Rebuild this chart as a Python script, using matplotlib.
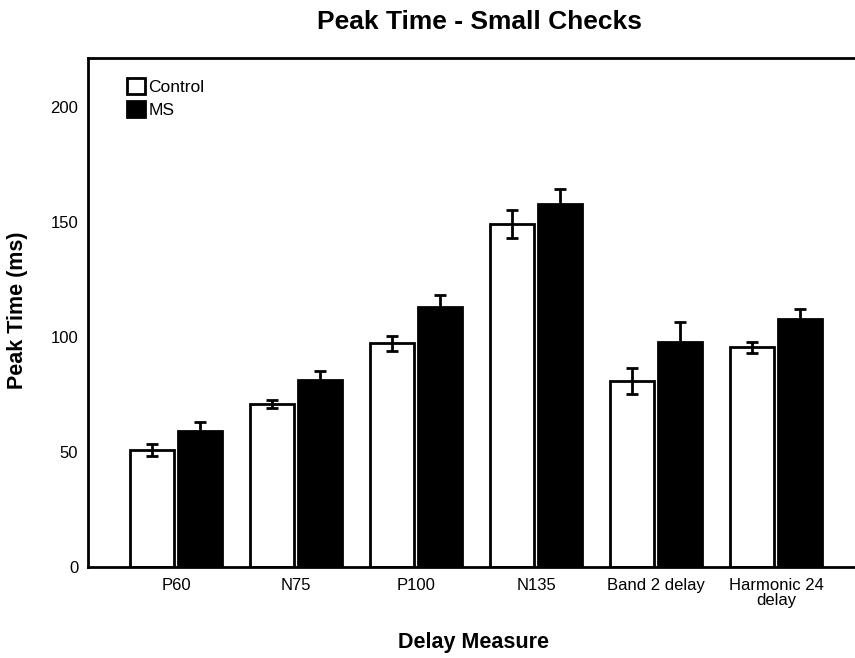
import matplotlib.pyplot as plt
import numpy as np

plt.rcParams['font.family'] = ['Liberation Sans', 'DejaVu Sans']

# peak times (ms), mean and error per delay measure
measures = ["P60", "N75", "P100", "N135", "Band 2 delay", "Harmonic 24\ndelay"]
control_mean = [50.9, 70.9, 97.3, 149.0, 80.8, 95.5]
control_err = [2.5, 1.6, 3.2, 6.0, 5.8, 2.3]
ms_mean = [59.1, 81.3, 113.2, 157.7, 97.8, 108.0]
ms_err = [4.1, 3.7, 5.1, 6.5, 8.6, 4.0]


def main():
    fig = plt.figure(figsize=(8.55, 6.58), dpi=100)
    ax = fig.add_axes([88 / 855, 91 / 658, 776 / 855, 509 / 658])

    x = np.arange(len(measures))
    w = 0.37
    gap = 0.015

    ax.bar(x - w / 2 - gap, control_mean, w, color="white", edgecolor="black",
           linewidth=2, label="Control")
    ax.bar(x + w / 2 + gap, ms_mean, w, color="black", edgecolor="black",
           linewidth=2, label="MS")

    ax.errorbar(x - w / 2 - gap, control_mean, yerr=control_err, fmt="none",
                ecolor="black", elinewidth=2, capsize=4.5, capthick=2)
    ax.errorbar(x + w / 2 + gap, ms_mean, yerr=ms_err, fmt="none",
                ecolor="black", elinewidth=2, capsize=4.5, capthick=2)

    ax.set_xlim(-0.733, len(measures) - 1 + 0.733)
    ax.set_ylim(0, 221.3)
    ax.set_yticks([0, 50, 100, 150, 200])
    ax.set_xticks(x)
    ax.set_xticklabels(measures, fontsize=12, linespacing=0.95)
    ax.tick_params(axis="both", length=0, labelsize=12)
    ax.tick_params(axis="y", pad=7)
    ax.tick_params(axis="x", pad=8)

    for side in ["left", "top", "bottom"]:
        ax.spines[side].set_linewidth(2)
    ax.spines["right"].set_visible(False)

    ax.set_ylabel("Peak Time (ms)", fontsize=15.5, fontweight="heavy")
    ax.yaxis.set_label_coords(-0.077, 0.505)
    ax.set_xlabel("Delay Measure", fontsize=15.5, fontweight="heavy")
    ax.xaxis.set_label_coords(0.497, -0.128)
    fig.text(479 / 855, 1 - 22 / 658, "Peak Time - Small Checks", fontsize=19,
             fontweight="heavy", ha="center", va="center")

    ax.legend(loc="upper left", bbox_to_anchor=(0.05, 0.96), frameon=False,
              fontsize=12.5, handlelength=1.05, handleheight=1.05,
              handletextpad=0.2, labelspacing=0.3, borderaxespad=0,
              borderpad=0)

    fig.savefig("out.png", dpi=100)


if __name__ == '__main__':
    main()
